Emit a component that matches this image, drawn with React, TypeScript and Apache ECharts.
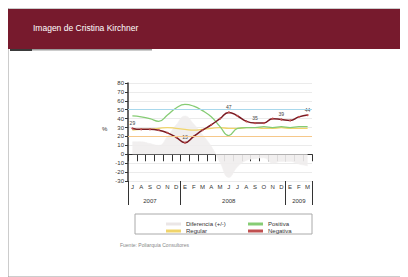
import React, { useEffect, useRef } from "react";
import * as echarts from "echarts";

const months = ["J", "A", "S", "O", "N", "D", "E", "F", "M", "A", "M", "J", "J", "A", "S", "O", "N", "D", "E", "F", "M"];
const years = ["2007", "2007", "2007", "2007", "2007", "2007", "2008", "2008", "2008", "2008", "2008", "2008", "2008", "2008", "2008", "2008", "2008", "2008", "2009", "2009", "2009"];
const positiva = [43, 42, 40, 37, 44, 52, 56, 54, 49, 42, 31, 21, 29, 30, 30, 31, 30, 31, 30, 31, 31];
const regular = [27, 28, 28, 29, 30, 29, 28, 27, 28, 29, 30, 29, 29, 30, 30, 29, 29, 30, 29, 29, 29];
const negativa = [29, 28, 28, 27, 24, 19, 13, 20, 27, 33, 40, 47, 43, 37, 35, 35, 40, 39, 38, 42, 44];
const diferencia = [14, 14, 12, 10, 20, 33, 43, 34, 22, 9, -9, -26, -14, -7, -5, -4, -10, -8, -8, -11, -13];
const yTicks = { min: -30, max: 80, interval: 10 };

const labelAt = (idx: number[], pos: string, color: string) => ({
  show: true,
  position: pos,
  fontSize: 5,
  color,
  distance: 2,
  formatter: (p: any) => (idx.includes(p.dataIndex) ? String(p.value) : ""),
});

export default function App() {
  const ref = useRef<HTMLDivElement>(null);
  useEffect(() => {
    if (!ref.current) return;
    const chart = echarts.init(ref.current, null, { renderer: "svg" });
    const font = "Liberation Sans, Arial, sans-serif";
    const legendBase = {
      orient: "vertical",
      top: 208,
      icon: "rect",
      itemWidth: 15,
      itemHeight: 3,
      itemGap: 1,
      textStyle: { fontSize: 6, color: "#333" },
    };
    chart.setOption({
      animation: false,
      backgroundColor: "#ffffff",
      textStyle: { fontFamily: font },
      grid: { left: 120, top: 75, width: 184, height: 98 },
      legend: [
        { ...legendBase, data: ["Diferencia (+/-)", "Regular"], left: 153 },
        { ...legendBase, data: ["Positiva", "Negativa"], left: 235 },
      ],
      xAxis: [
        {
          type: "category",
          data: months,
          boundaryGap: true,
          axisLine: { show: true, lineStyle: { color: "#333", width: 1 } },
          axisTick: { show: true, length: 7, lineStyle: { color: "#333" } },
          axisLabel: { fontSize: 6, color: "#333", margin: 3, interval: 0 },
          splitLine: { show: false },
        },
        {
          type: "category",
          data: years,
          position: "bottom",
          boundaryGap: true,
          axisLine: { show: false },
          axisTick: {
            show: true,
            length: 24,
            interval: (i: number) => i === 0 || i === 6 || i === 18,
            lineStyle: { color: "#333" },
          },
          axisLabel: {
            fontSize: 6,
            color: "#333",
            margin: 17,
            interval: (i: number) => i === 2 || i === 11 || i === 19,
          },
        },
      ],
      yAxis: {
        type: "value",
        min: yTicks.min,
        max: yTicks.max,
        interval: yTicks.interval,
        axisLine: { show: true, lineStyle: { color: "#333", width: 1.5 } },
        axisTick: { show: true, length: 3, lineStyle: { color: "#333" } },
        axisLabel: { fontSize: 6, color: "#333", margin: 4 },
        splitLine: { show: true, lineStyle: { color: "#e6e6e6", width: 0.8 } },
      },
      series: [
        {
          name: "Diferencia (+/-)",
          type: "line",
          data: diferencia,
          symbol: "none",
          smooth: true,
          lineStyle: { color: "#f0eeee", width: 0.5 },
          itemStyle: { color: "#ebe6e6" },
          areaStyle: { color: "#efeded", opacity: 0.9 },
          z: 1,
          markLine: {
            silent: true,
            symbol: "none",
            label: { show: false },
            data: [
              { yAxis: 50, lineStyle: { color: "#a8d8ec", width: 1, type: "solid" } },
              { yAxis: 20, lineStyle: { color: "#f6c88a", width: 1, type: "solid" } },
            ],
          },
        },
        {
          name: "Positiva",
          type: "line",
          data: positiva,
          symbol: "none",
          smooth: true,
          lineStyle: { color: "#86cc74", width: 1.3 },
          itemStyle: { color: "#86cc74" },
          label: labelAt([6, 11, 14, 20], "top", "#444"),
          z: 3,
        },
        {
          name: "Regular",
          type: "line",
          data: regular,
          symbol: "none",
          smooth: true,
          lineStyle: { color: "#f0d46a", width: 1.3 },
          itemStyle: { color: "#f0d46a" },
          label: labelAt([19], "bottom", "#444"),
          z: 2,
        },
        {
          name: "Negativa",
          type: "line",
          data: negativa,
          symbol: "circle",
          symbolSize: 2,
          smooth: true,
          lineStyle: { color: "#7a1a22", width: 1.5 },
          itemStyle: { color: "#c05050" },
          label: labelAt([0, 6, 11, 14, 17, 20], "top", "#444"),
          z: 4,
        },
      ],
      graphic: [
        { type: "rect", shape: { x: 0, y: 0, width: 400, height: 269 }, style: { fill: "none", stroke: "#9a9a9a", lineWidth: 1 }, silent: true },
        { type: "rect", shape: { x: 0, y: 1, width: 400, height: 40 }, style: { fill: "#771a2d" } },
        { type: "text", left: 25, top: 15, style: { text: "Imagen de Cristina Kirchner", fill: "#ffffff", fontSize: 8.5, fontFamily: font } },
        { type: "rect", shape: { x: 2, y: 41, width: 22, height: 2 }, style: { fill: "#3a3a3a" } },
        { type: "rect", shape: { x: 24, y: 41, width: 120, height: 1.5 }, style: { fill: "#9a9a9a" } },
        { type: "text", left: 94, top: 118, style: { text: "%", fill: "#333", fontSize: 6, fontFamily: font } },
        { type: "rect", shape: { x: 127, y: 206, width: 177, height: 20 }, style: { fill: "none", stroke: "#aaaaaa", lineWidth: 1 } },
        { type: "text", left: 112, top: 234, style: { text: "Fuente: Poliarquía Consultores", fill: "#888", fontSize: 5, fontFamily: font } },
      ],
    });
    return () => chart.dispose();
  }, []);
  return <div ref={ref} style={{ width: 400, height: 269 }} />;
}
